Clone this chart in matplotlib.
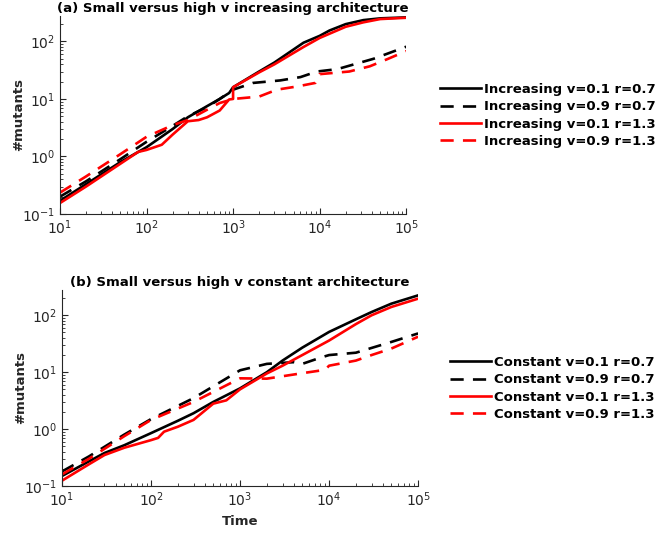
import matplotlib.pyplot as plt

# (a) increasing architecture
inc_t_v1_r07 = [10, 20, 50, 100, 200, 300, 500, 700, 900, 1000, 2000, 3000, 6500, 10000, 13000, 20000, 32000, 50000, 100000]
inc_v1_r07 = [0.17, 0.33, 0.8, 1.45, 3.0, 4.8, 7.5, 10, 12.7, 16, 30, 43, 95, 125, 155, 200, 235, 252, 262]

inc_t_v9_r07 = [10, 20, 50, 100, 200, 300, 500, 700, 1000, 1700, 3500, 6000, 9300, 16000, 25000, 42000, 100000]
inc_v9_r07 = [0.2, 0.37, 0.9, 1.8, 3.4, 5.0, 7.2, 10, 14.5, 19, 21, 24, 30, 33, 40, 50, 81]

inc_t_v1_r13 = [10, 20, 50, 80, 100, 150, 200, 300, 400, 500, 700, 900, 999, 1000, 2000, 3000, 6500, 10000, 20000, 32000, 50000, 100000]
inc_v1_r13 = [0.155, 0.3, 0.75, 1.2, 1.3, 1.6, 2.4, 4.1, 4.3, 4.8, 6.3, 9.8, 10, 16, 29, 40, 80, 115, 180, 215, 245, 258]

inc_t_v9_r13 = [10, 20, 50, 100, 200, 300, 500, 700, 900, 1000, 2000, 3200, 5500, 8900, 10000, 22000, 38000, 60000, 100000]
inc_v9_r13 = [0.235, 0.45, 1.1, 2.2, 3.5, 4.3, 6.5, 8.5, 9.5, 10, 11, 14.5, 16.5, 19, 27, 30, 37, 49, 68]

# (b) constant architecture
con_t_v1_r07 = [10, 20, 30, 50, 100, 200, 300, 500, 1000, 2000, 3000, 5000, 10000, 20000, 30000, 50000, 100000]
con_v1_r07 = [0.15, 0.27, 0.38, 0.52, 0.85, 1.4, 1.9, 3.0, 5.2, 10, 16, 27, 51, 85, 114, 160, 224]

con_t_v9_r07 = [10, 20, 50, 100, 300, 600, 1000, 2000, 4000, 5000, 8000, 10000, 20000, 50000, 100000]
con_v9_r07 = [0.18, 0.33, 0.8, 1.5, 3.5, 6.7, 10.8, 14, 15, 14, 18, 20, 22, 34, 48]

con_t_v1_r13 = [10, 20, 30, 50, 100, 120, 140, 200, 300, 500, 700, 1000, 2000, 3000, 5000, 10000, 20000, 30000, 50000, 100000]
con_v1_r13 = [0.124, 0.24, 0.35, 0.47, 0.64, 0.7, 0.9, 1.1, 1.45, 2.8, 3.2, 5, 9.5, 13, 20, 36, 70, 100, 140, 196]

con_t_v9_r13 = [10, 20, 50, 100, 300, 1000, 2000, 5000, 9000, 10000, 20000, 30000, 50000, 100000]
con_v9_r13 = [0.16, 0.3, 0.75, 1.45, 3.0, 7.8, 7.7, 9.6, 11, 13, 16, 20, 26, 42]

labels_v = ['v=0.1 r=0.7', 'v=0.9 r=0.7', 'v=0.1 r=1.3', 'v=0.9 r=1.3']

gray = '#262626'
plt.rcParams['font.family'] = 'DejaVu Sans'

fig = plt.figure(figsize=(6.57, 5.33), dpi=100)
ax1 = fig.add_axes([0.0913, 0.5985, 0.527, 0.372])
ax2 = fig.add_axes([0.0944, 0.0882, 0.542, 0.368])

dash = (5, 3.5)
lw = 1.9


def draw(ax, series, prefix):
    styles = [('k', None), ('k', dash), ('r', None), ('r', dash)]
    for (t, y), (c, d), lab in zip(series, styles, labels_v):
        line, = ax.plot(t, y, color=c, lw=lw, label=prefix + ' ' + lab)
        if d is not None:
            line.set_dashes(d)
    ax.set_xscale('log')
    ax.set_yscale('log')
    ax.set_xlim(10, 1e5)
    ax.set_ylim(0.1, 280)
    for s in ['top', 'right']:
        ax.spines[s].set_visible(False)
    for s in ['left', 'bottom']:
        ax.spines[s].set_color(gray)
        ax.spines[s].set_linewidth(0.8)
    ax.tick_params(which='both', direction='in', colors=gray, labelsize=10)
    ax.tick_params(which='major', length=4.5)
    ax.tick_params(which='minor', length=2.5)
    ax.set_ylabel('#mutants', fontsize=9.5, fontweight='bold', color=gray, labelpad=-2)


draw(ax1, [(inc_t_v1_r07, inc_v1_r07), (inc_t_v9_r07, inc_v9_r07),
           (inc_t_v1_r13, inc_v1_r13), (inc_t_v9_r13, inc_v9_r13)], 'Increasing')
draw(ax2, [(con_t_v1_r07, con_v1_r07), (con_t_v9_r07, con_v9_r07),
           (con_t_v1_r13, con_v1_r13), (con_t_v9_r13, con_v9_r13)], 'Constant')

ax1.set_title('(a) Small versus high v increasing architecture', fontsize=9.5, fontweight='bold', pad=3)
ax2.set_title('(b) Small versus high v constant architecture', fontsize=9.5, fontweight='bold', pad=3)
ax2.set_xlabel('Time', fontsize=9.5, fontweight='bold', color=gray, labelpad=4)

leg_kw = dict(frameon=False, prop={'size': 9.5, 'weight': 'bold'}, handlelength=3.1,
              handletextpad=0.2, labelspacing=0.33, borderaxespad=0, borderpad=0)
ax1.legend(loc='upper left', bbox_to_anchor=(440 / 657, 1 - 83 / 533),
           bbox_transform=fig.transFigure, **leg_kw)
ax2.legend(loc='upper left', bbox_to_anchor=(450 / 657, 1 - 356 / 533),
           bbox_transform=fig.transFigure, **leg_kw)

fig.savefig('out.png', dpi=100)
